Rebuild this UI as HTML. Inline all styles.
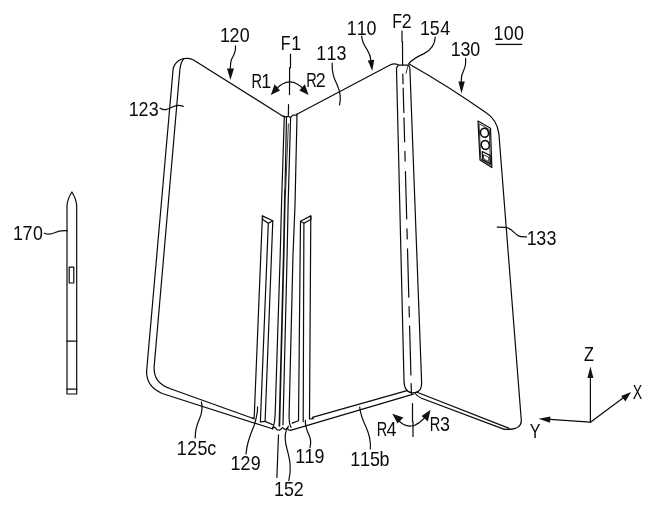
<!DOCTYPE html>
<html>
<head>
<meta charset="utf-8">
<title>Foldable device figure</title>
<style>
  html, body { margin: 0; padding: 0; background: #ffffff; }
  body { width: 658px; height: 514px; overflow: hidden; }
  svg { display: block; will-change: transform; filter: grayscale(1); }
  .l { fill: none; stroke: #0a0a0a; stroke-width: 1.2; stroke-linecap: round; stroke-linejoin: round; }
  .t { fill: none; stroke: #222; stroke-width: 0.9; stroke-linecap: round; stroke-linejoin: round; }
  .k { fill: none; stroke: #111; stroke-width: 1.7; stroke-linecap: round; }
  .a { fill: #111; stroke: none; }
  text { font-family: "Liberation Sans", sans-serif; font-size: 20.8px; fill: #0a0a0a; }
</style>
</head>
<body>
<svg width="658" height="514" viewBox="0 0 658 514">
  <rect x="0" y="0" width="658" height="514" fill="#ffffff"/>

  <!-- ===== LEFT PANEL (120) ===== -->
  <g id="panel-left">
    <path class="l" d="M283,116.2 L193.1,59.8 C189.2,57.9 183,57.6 178.4,60.7 C175,63.3 173.6,66 173.1,69.3 L146.6,371.3 C146.4,382 151.5,389 162.2,393.5 L272.4,428.8"/>
    <path class="l" d="M183.8,58.7 C181.8,61 180.5,64.5 179.9,69.3 L154.1,367.2 C153.8,378 158.5,384.5 170.4,388.8 L254.7,419"/>
  </g>

  <!-- ===== MIDDLE PANEL (110) ===== -->
  <g id="panel-middle">
    <path class="l" d="M296.9,114.2 L390.5,64.8 C393,63.6 395.5,63.3 398.6,65.2"/>
    <path class="l" d="M312.4,417.4 L407,390.6"/>
    <path class="l" d="M290.5,430.3 L413.4,394.2"/>
  </g>

  <!-- ===== RIGHT PANEL (130) ===== -->
  <g id="panel-right">
    <path class="l" d="M409.1,63.9 Q448.9,86.4 486.2,112.8 C493.5,117.5 497.5,123.5 498.9,133.9 L521.3,420.2 C521.6,426.2 517,429 509.2,429.4 L504.3,429.4"/>
    <path class="l" d="M416.4,392 L509.2,428.4"/>
    <path class="l" d="M415.1,393.3 C416.5,395.5 418.5,397 421.5,398.3 L504.3,429.4"/>
  </g>

  <!-- ===== HINGE F2 ===== -->
  <g id="hinge-f2">
    <path class="l" d="M398.6,65.2 L408.4,65.2"/>
    <path class="l" d="M397.9,66 C396.8,66.8 396.4,67.6 396.5,68.7 L404,380.5 C404.2,389.5 407,392.8 412.5,392.8 C418.5,392.8 421.8,390 421.6,382 L409.9,68.7 C409.8,67 409.3,66 408.4,65.2"/>
    <path class="t" d="M408,65.8 L406,73.4"/>
    <path class="l" stroke-dasharray="9.7 4.3 24.6 5.3 23.9 9.6 9.6 10.6 47.4 9.8 10.2 10 48.2 9.6 10.3 9.2 48.7 8.7 9.7 200" d="M402.8,74 L411.4,393.4"/>
  </g>

  <!-- ===== HINGE F1 ===== -->
  <g id="hinge-f1">
    <path class="l" d="M283,116.2 L286.2,116.8 L288.4,116.2 L290.4,117.6 L292.8,115.1 L296.7,115.1 L296.9,114.2"/>
    <path class="l" d="M284.3,116.8 L281.5,205 L280.2,255 L275.6,400 C275.2,420 274.6,425 272.4,428.8"/>
    <path class="l" d="M286.5,117 L285,190"/>
    <path class="k" d="M285,190 L283.7,255 L279.4,426"/>
    <path class="t" d="M288.4,124 L285.4,196"/>
    <path class="l" d="M290.6,117.4 L288.1,205 L287.1,255 L283,424.8"/>
    <path class="l" d="M296.9,115.1 L296.9,120.6 L295,205 L293,255 L289.1,415 C289,422 289.5,425 291,427.2"/>
  </g>

  <!-- ===== RAIL 129 ===== -->
  <g id="rail-129">
    <path class="l" d="M262.4,215.9 L272.8,220.8 L268.3,223.3 L262.7,219.4 Z"/>
    <path class="l" d="M262.4,215.9 L254.2,417.3 L252.4,418.4"/>
    <path class="l" d="M268.3,223.3 L260.4,421.9 L265.1,421.4"/>
    <path class="l" d="M272.8,220.8 L265.1,421.4 L272.8,424.8"/>
  </g>

  <!-- ===== RAIL 119 ===== -->
  <g id="rail-119">
    <path class="l" d="M310.8,215.9 L300.5,221.3 L303.9,223.3 L310.8,219.4 Z"/>
    <path class="l" d="M310.8,215.9 L309.5,419 L313.4,418.6"/>
    <path class="l" d="M303.9,223.3 L303.2,421.6"/>
    <path class="l" d="M300.5,221.3 L298.5,420.8 L292.2,423.1"/>
  </g>

  <!-- hinge bottom wavy -->
  <path class="l" d="M272.4,428.8 Q273.2,427.2 274.3,427.1 Q276,428 277.2,430 L279.4,430.2 Q281,429.6 282.4,427.7 Q283.6,428 284.7,429.4 Q286,429.4 287,428.3 Q288,429 288.7,430 L290.5,430.3"/>

  <!-- ===== CAMERA ===== -->
  <g id="camera">
    <path class="l" d="M478,121.1 L490.5,128.3 L491.8,167.6 L480,159.9 Z"/>
    <path class="t" d="M479.4,123.9 L489.3,129.6 L490.4,165.2 L481.1,159.2 Z"/>
    <ellipse class="l" style="stroke-width:1.6" cx="484.5" cy="132.8" rx="4" ry="4.5" transform="rotate(-15 484.5 132.8)"/>
    <ellipse class="l" style="stroke-width:1.6" cx="485.3" cy="145" rx="4" ry="4.5" transform="rotate(-15 485.3 145)"/>
    <path class="l" d="M482.2,151.5 L489.9,155.4 L490.3,163.7 L482.7,159.9 Z"/>
    <path class="t" d="M483.8,154.9 L488.6,157.1 L488.8,161.5 L484.1,159.3 Z"/>
  </g>

  <!-- ===== STYLUS 170 ===== -->
  <g id="stylus">
    <path class="l" d="M67,394 L67,205.5 C67.4,199.5 69.4,196 71.9,192 C74.4,196 76.3,199.5 76.7,205.5 L76.7,394 Z"/>
    <path class="l" d="M67,341.2 L76.7,341.2"/>
    <path class="l" d="M67,389.2 L76.7,389.2"/>
    <rect class="l" x="69.2" y="267.1" width="4.6" height="15.9"/>
  </g>

  <!-- ===== AXES ===== -->
  <g id="axes">
    <path class="l" d="M590.4,422.2 L590.4,372"/>
    <path class="a" d="M590.4,366.6 L593.4,378 L587.4,378 Z"/>
    <path class="l" d="M590.4,422.2 L546,419.2"/>
    <path class="a" d="M538.6,418.7 L550.4,416.4 L550,422.8 Z"/>
    <path class="l" d="M590.4,422.2 L625,396.4"/>
    <path class="a" d="M631,392 L625.4,401.6 L621.2,396 Z"/>
  </g>

  <!-- ===== ROTATION ARROWS R1/R2 ===== -->
  <g id="rot-top">
    <path class="l" d="M275,90.2 Q289.9,73.6 304.6,90.2"/>
    <path class="a" d="M270.8,95 L274.6,84.2 L280,90.4 Z"/>
    <path class="a" d="M308.6,95 L304.8,84.2 L299.4,90.4 Z"/>
    <path class="l" d="M290.5,54 L290.5,67.7 M289.6,67.7 L289.5,94.6"/>
    <path class="l" d="M288.5,104.7 L288.4,114.9"/>
  </g>

  <!-- ===== ROTATION ARROWS R3/R4 ===== -->
  <g id="rot-bottom">
    <path class="l" d="M397,418.8 Q411,434.8 426.4,415.6"/>
    <path class="a" d="M392.2,413.8 L403.4,417.4 L397.6,423.6 Z"/>
    <path class="a" d="M430.6,409.8 L427.8,421.6 L421.6,416 Z"/>
    <path class="l" d="M412.5,403.6 L412.5,421.5 M413,421.5 L413,436.6"/>
  </g>

  <!-- ===== LEADERS ===== -->
  <g id="leaders">
    <path class="l" d="M235.5,45.8 C236,52 234,55 231.9,58.6 C230.4,62 230.3,65 230.4,69.4"/>
    <path class="a" d="M230.4,79.9 L227,68.4 L234,68.4 Z"/>
    <path class="l" d="M361.7,36.2 C362,42 364,45 367,49.4 C370,54 370.8,56 371,61"/>
    <path class="a" d="M372.3,71.1 L367.8,60.4 L374.2,59.8 Z"/>
    <path class="l" d="M465.6,58.4 Q466.2,66 463.4,71 Q460.8,76 461.2,82"/>
    <path class="a" d="M461.5,93.4 L458.4,81.6 L464.8,81.6 Z"/>
    <path class="l" d="M160.1,108.2 C164,110.6 167,110 172.3,107 C176.5,104.8 180,105 183.2,106.4"/>
    <path class="l" d="M332.2,63.2 Q331.6,74 336.8,84 Q342,95 339.5,105"/>
    <path class="l" d="M435.2,37 C435,45 431,50 424,53.6 C417,56.8 412,59.6 408.8,63.6"/>
    <path class="l" d="M402,31.2 L402,41.6 M402.5,41.6 L402.6,64.6"/>
    <path class="l" d="M497.3,227.2 L505.8,227.4 C511,228 514,233 518,235.6 C521,237.2 524,237 526.5,236.9"/>
    <path class="l" d="M44.5,233.2 C48,235 51,234.4 54.6,232.8 C59,230.6 62,230.4 67.2,230.8"/>
    <path class="l" d="M201.4,402 Q203.4,410 199.4,419 Q195,429 195.2,438"/>
    <path class="l" d="M257.6,406.9 C257.6,414 256.4,418 254.3,425 C251,433 247,441 246,454"/>
    <path class="l" d="M278.5,434.8 L276.9,477.5"/>
    <path class="l" d="M288.4,426.2 C285,431 284.4,436 285.8,444 C288.4,455 292.6,466 288.8,480.6"/>
    <path class="l" d="M305.4,420.4 C304.6,426 307,431 309.6,436.5 C311.4,441 310.8,444 310,447.6"/>
    <path class="l" d="M359.7,407 Q360.6,416 366,427 Q371,438 370.4,449"/>
    <path class="l" style="stroke-width:1.3;stroke-linecap:butt" d="M495.6,44.4 L522.2,44.4"/>
  </g>

  <!-- ===== LABELS ===== -->
  <g id="labels">
    <text y="42.2"><tspan x="220.00" textLength="9.95" lengthAdjust="spacingAndGlyphs">1</tspan><tspan x="229.48" textLength="9.95" lengthAdjust="spacingAndGlyphs">2</tspan><tspan x="239.78" textLength="9.95" lengthAdjust="spacingAndGlyphs">0</tspan></text>
    <text y="49.8"><tspan x="280.87" textLength="9.78" lengthAdjust="spacingAndGlyphs">F</tspan><tspan x="291.35" textLength="9.95" lengthAdjust="spacingAndGlyphs">1</tspan></text>
    <text y="34.6"><tspan x="346.63" textLength="9.95" lengthAdjust="spacingAndGlyphs">1</tspan><tspan x="356.65" textLength="9.95" lengthAdjust="spacingAndGlyphs">1</tspan><tspan x="366.53" textLength="9.95" lengthAdjust="spacingAndGlyphs">0</tspan></text>
    <text y="60.0"><tspan x="316.35" textLength="9.95" lengthAdjust="spacingAndGlyphs">1</tspan><tspan x="326.50" textLength="9.95" lengthAdjust="spacingAndGlyphs">1</tspan><tspan x="336.43" textLength="9.95" lengthAdjust="spacingAndGlyphs">3</tspan></text>
    <text y="27.7"><tspan x="392.32" textLength="9.78" lengthAdjust="spacingAndGlyphs">F</tspan><tspan x="401.83" textLength="9.95" lengthAdjust="spacingAndGlyphs">2</tspan></text>
    <text y="35.2"><tspan x="420.10" textLength="9.95" lengthAdjust="spacingAndGlyphs">1</tspan><tspan x="429.84" textLength="9.95" lengthAdjust="spacingAndGlyphs">5</tspan><tspan x="440.13" textLength="9.95" lengthAdjust="spacingAndGlyphs">4</tspan></text>
    <text y="56.2"><tspan x="450.85" textLength="9.95" lengthAdjust="spacingAndGlyphs">1</tspan><tspan x="460.48" textLength="9.95" lengthAdjust="spacingAndGlyphs">3</tspan><tspan x="470.23" textLength="9.95" lengthAdjust="spacingAndGlyphs">0</tspan></text>
    <text y="40.0"><tspan x="493.55" textLength="9.95" lengthAdjust="spacingAndGlyphs">1</tspan><tspan x="503.78" textLength="9.95" lengthAdjust="spacingAndGlyphs">0</tspan><tspan x="513.88" textLength="9.95" lengthAdjust="spacingAndGlyphs">0</tspan></text>
    <text y="88.1"><tspan x="251.43" textLength="10.51" lengthAdjust="spacingAndGlyphs">R</tspan><tspan x="261.15" textLength="9.95" lengthAdjust="spacingAndGlyphs">1</tspan></text>
    <text y="86.8"><tspan x="306.13" textLength="10.51" lengthAdjust="spacingAndGlyphs">R</tspan><tspan x="315.73" textLength="9.95" lengthAdjust="spacingAndGlyphs">2</tspan></text>
    <text y="115.6"><tspan x="128.85" textLength="9.95" lengthAdjust="spacingAndGlyphs">1</tspan><tspan x="138.48" textLength="9.95" lengthAdjust="spacingAndGlyphs">2</tspan><tspan x="148.63" textLength="9.95" lengthAdjust="spacingAndGlyphs">3</tspan></text>
    <text y="244.7"><tspan x="526.65" textLength="9.95" lengthAdjust="spacingAndGlyphs">1</tspan><tspan x="536.13" textLength="9.95" lengthAdjust="spacingAndGlyphs">3</tspan><tspan x="546.38" textLength="9.95" lengthAdjust="spacingAndGlyphs">3</tspan></text>
    <text y="239.8"><tspan x="13.00" textLength="9.95" lengthAdjust="spacingAndGlyphs">1</tspan><tspan x="22.62" textLength="9.95" lengthAdjust="spacingAndGlyphs">7</tspan><tspan x="32.88" textLength="9.95" lengthAdjust="spacingAndGlyphs">0</tspan></text>
    <text y="454.5"><tspan x="176.75" textLength="9.95" lengthAdjust="spacingAndGlyphs">1</tspan><tspan x="187.28" textLength="9.95" lengthAdjust="spacingAndGlyphs">2</tspan><tspan x="197.59" textLength="9.95" lengthAdjust="spacingAndGlyphs">5</tspan><tspan x="207.18" textLength="8.94" lengthAdjust="spacingAndGlyphs">c</tspan></text>
    <text y="470.2"><tspan x="230.55" textLength="9.95" lengthAdjust="spacingAndGlyphs">1</tspan><tspan x="240.48" textLength="9.95" lengthAdjust="spacingAndGlyphs">2</tspan><tspan x="250.68" textLength="9.95" lengthAdjust="spacingAndGlyphs">9</tspan></text>
    <text y="462.7"><tspan x="295.25" textLength="9.95" lengthAdjust="spacingAndGlyphs">1</tspan><tspan x="304.60" textLength="9.95" lengthAdjust="spacingAndGlyphs">1</tspan><tspan x="314.48" textLength="9.95" lengthAdjust="spacingAndGlyphs">9</tspan></text>
    <text y="465.7"><tspan x="350.35" textLength="9.95" lengthAdjust="spacingAndGlyphs">1</tspan><tspan x="359.95" textLength="9.95" lengthAdjust="spacingAndGlyphs">1</tspan><tspan x="369.99" textLength="9.95" lengthAdjust="spacingAndGlyphs">5</tspan><tspan x="379.42" textLength="9.95" lengthAdjust="spacingAndGlyphs">b</tspan></text>
    <text y="496.2"><tspan x="274.00" textLength="9.95" lengthAdjust="spacingAndGlyphs">1</tspan><tspan x="284.09" textLength="9.95" lengthAdjust="spacingAndGlyphs">5</tspan><tspan x="293.68" textLength="9.95" lengthAdjust="spacingAndGlyphs">2</tspan></text>
    <text y="436.2"><tspan x="376.63" textLength="10.51" lengthAdjust="spacingAndGlyphs">R</tspan><tspan x="386.43" textLength="9.95" lengthAdjust="spacingAndGlyphs">4</tspan></text>
    <text y="430.7"><tspan x="429.83" textLength="10.51" lengthAdjust="spacingAndGlyphs">R</tspan><tspan x="439.98" textLength="9.95" lengthAdjust="spacingAndGlyphs">3</tspan></text>
    <text y="361.4"><tspan x="583.94" textLength="9.91" lengthAdjust="spacingAndGlyphs">Z</tspan></text>
    <text y="398.8"><tspan x="632.67" textLength="9.43" lengthAdjust="spacingAndGlyphs">X</tspan></text>
    <text y="437.6"><tspan x="529.86" textLength="10.68" lengthAdjust="spacingAndGlyphs">Y</tspan></text>
  </g>
</svg>
</body>
</html>
